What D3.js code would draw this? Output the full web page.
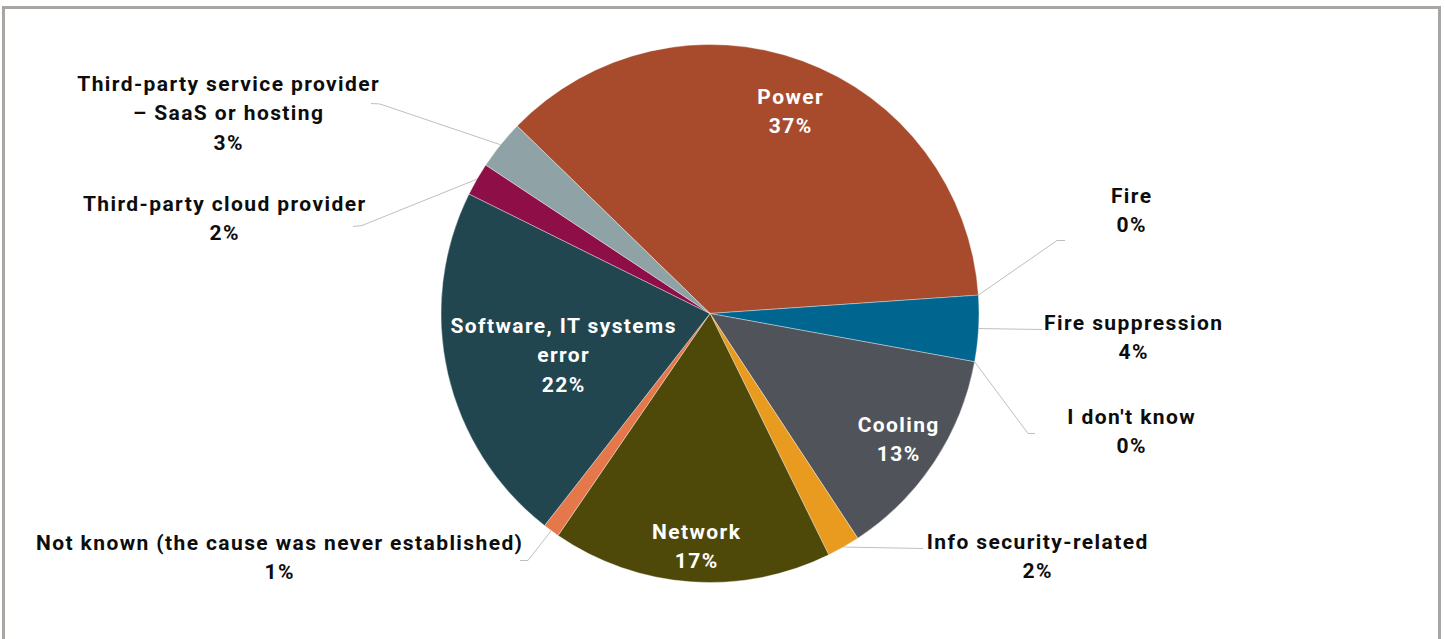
<!DOCTYPE html>
<html>
<head>
<meta charset="utf-8">
<script src="https://cdn.jsdelivr.net/npm/d3@7"></script>
<style>
  html, body { margin: 0; padding: 0; background: #ffffff; }
  svg { display: block; }
  text { font-family: Roboto, "Noto Sans", sans-serif; font-weight: 700; font-size: 21px; letter-spacing: 1.4px; }
</style>
</head>
<body>
<svg id="chart" width="1445" height="639"></svg>
<script>
// Causes of the most recent significant outage (share of respondents, %)
const categories = [
  "Power", "Fire", "Fire suppression", "I don't know", "Cooling",
  "Info security-related", "Network", "Not known (the cause was never established)",
  "Software, IT systems error", "Third-party cloud provider",
  "Third-party service provider – SaaS or hosting"
];
const shares = [37, 0, 4, 0, 13, 2, 17, 1, 22, 2, 3];
const labelLines = [
  ["Power"], ["Fire"], ["Fire suppression"], ["I don't know"], ["Cooling"],
  ["Info security-related"], ["Network"], ["Not known (the cause was never established)"],
  ["Software, IT systems", "error"], ["Third-party cloud provider"],
  ["Third-party service provider", "– SaaS or hosting"]
];
const colors = [
  "#A84B2D", "#C0504D", "#006690", "#7F7F7F", "#50545A",
  "#E89B1F", "#4F4909", "#E4784B", "#21464F", "#8E0F47", "#8FA2A5"
];

const svg = d3.select("#chart");
const W = 1445, H = 639;

// Outer frame (open at the bottom)
svg.append("path")
  .attr("d", `M3.5,${H} L3.5,7.5 L1439.5,7.5 L1439.5,${H}`)
  .attr("fill", "none")
  .attr("stroke", "#A9A5A3")
  .attr("stroke-width", 3);

const cx = 710, cy = 313.5, R = 269;
const startDeg = -45.8;

const pie = d3.pie()
  .value(d => d.value)
  .sort(null)
  .startAngle(startDeg * Math.PI / 180)
  .endAngle((startDeg + 360) * Math.PI / 180);

const data = categories.map((c, i) => ({
  name: c, value: shares[i], color: colors[i], lines: labelLines[i]
}));
const arcs = pie(data);

const arc = d3.arc().innerRadius(0).outerRadius(R);
const g = svg.append("g").attr("transform", `translate(${cx},${cy})`);

g.selectAll("path.slice")
  .data(arcs.filter(a => a.data.value > 0))
  .join("path")
  .attr("class", "slice")
  .attr("d", arc)
  .attr("fill", d => d.data.color)
  .attr("stroke", "#ffffff")
  .attr("stroke-opacity", 0.6)
  .attr("stroke-width", 0.6);

// Label placement: inside (white) or outside (black, with leader line)
const layout = {
  "Power": { x: 790, y: 96, inside: true },
  "Cooling": { x: 898, y: 424, inside: true },
  "Network": { x: 696, y: 531, inside: true },
  "Software, IT systems error": { x: 563, y: 325, inside: true },
  "Fire": { x: 1131, y: 195, leader: [[1065, 240.5], [1057, 240.5]] },
  "Fire suppression": { x: 1133, y: 322, leader: [[1042, 329.5]] },
  "I don't know": { x: 1131, y: 416, leader: [[1035, 433.5], [1028, 433.5]] },
  "Info security-related": { x: 1037, y: 541, leader: [[923, 548.5]] },
  "Not known (the cause was never established)": { x: 279, y: 542, leader: [[520, 560.5], [528, 560.5]] },
  "Third-party cloud provider": { x: 224, y: 203, leader: [[353, 226.5], [362, 225.5]] },
  "Third-party service provider – SaaS or hosting": { x: 228, y: 83, leader: [[371, 103.5], [380, 104]] }
};

const lineH = 29.5;

// Leader lines end on the slice's outer edge at its mid angle
arcs.forEach(a => {
  const L = layout[a.data.name];
  if (!L || L.inside) return;
  const mid = (a.startAngle + a.endAngle) / 2;
  const px = cx + R * Math.sin(mid);
  const py = cy - R * Math.cos(mid);
  const pts = L.leader.concat([[px, py]]);
  svg.append("path")
    .attr("d", d3.line()(pts))
    .attr("fill", "none")
    .attr("stroke", "#BFBFBF")
    .attr("stroke-width", 1);
});

arcs.forEach(a => {
  const L = layout[a.data.name];
  const lines = a.data.lines.concat([d3.format(".0f")(a.data.value) + "%"]);
  const t = svg.append("text")
    .attr("text-anchor", "middle")
    .attr("fill", L.inside ? "#ffffff" : "#0D0D0D");
  lines.forEach((ln, i) => {
    t.append("tspan")
      .attr("x", L.x + 0.7)
      .attr("y", L.y + i * lineH)
      .attr("dy", "0.36em")
      .text(ln);
  });
});
</script>
</body>
</html>
